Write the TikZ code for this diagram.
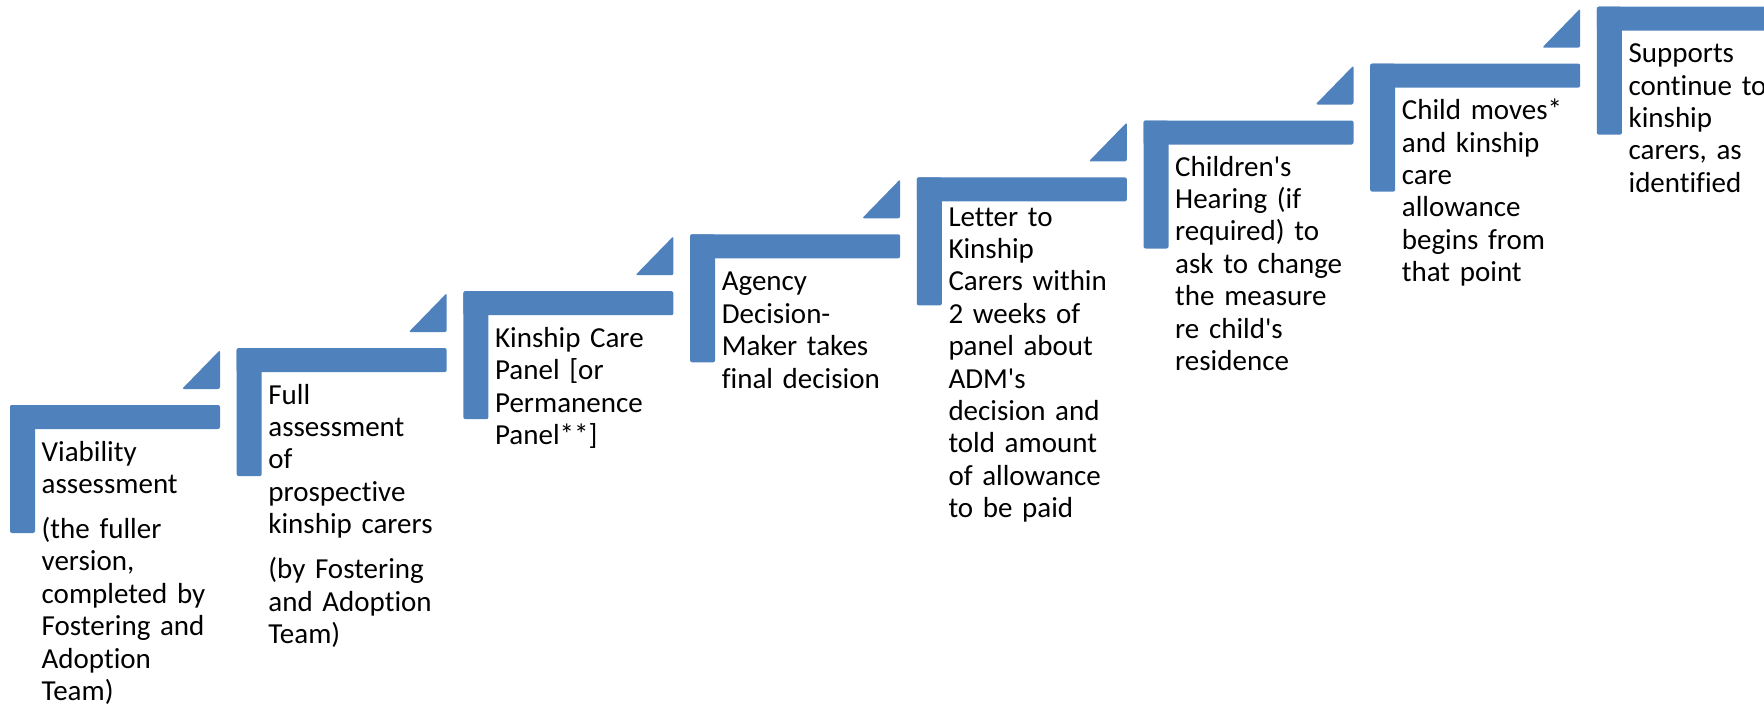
\documentclass[tikz,border=0pt]{standalone}
\usepackage{fontspec}
\newfontfamily\stepfont{Carlito}[Ligatures=CommonOff]
\definecolor{stepblue}{HTML}{4F81BD}
\tikzset{
  bar/.style={fill=stepblue, rounded corners=2pt},
  steptext/.style={anchor=base west, inner sep=0pt, text width=230pt, align=left,
    font=\stepfont\fontsize{29}{32.4}\selectfont, text=black}
}
\begin{document}
\begin{tikzpicture}[x=1pt,y=-1pt]
\useasboundingbox (0,0) rectangle (1764,707);
\clip (0,0) rectangle (1764,707);
\foreach \i in {1,...,8}{
  \pgfmathsetmacro\X{10+226.7*(\i-1)}
  \pgfmathsetmacro\Y{405-56.9*(\i-1)}
  \coordinate (s\i) at (\X,\Y);
  \fill[bar] (\X,\Y) rectangle ++(210,24);
  \fill[bar] (\X,\Y) rectangle ++(25,128);
  \fill[bar] (\X+172,\Y-16) -- (\X+210,\Y-16) -- (\X+210,\Y-55) -- cycle;
}
\node[steptext] (t1) at ([shift={(31.5,56)}]s1)
  {Viability\\assessment\\[12.6pt](the fuller\\version,\\completed by\\Fostering and\\Adoption\\Team)};
\node[steptext] (t2) at ([shift={(31.5,56)}]s2)
  {Full\\assessment\\of\\prospective\\kinship carers\\[12.6pt](by Fostering\\and Adoption\\Team)};
\node[steptext] (t3) at ([shift={(31.5,56)}]s3)
  {Kinship Care\\Panel [or\\Permanence\\Panel**]};
\node[steptext] (t4) at ([shift={(31.5,56.5)}]s4)
  {Agency\\Decision-\\Maker takes\\final decision};
\node[steptext] (t5) at ([shift={(31.5,48.6)}]s5)
  {Letter to\\Kinship\\Carers within\\2 weeks of\\panel about\\ADM's\\decision and\\told amount\\of allowance\\to be paid};
\node[steptext] (t6) at ([shift={(31.5,55.5)}]s6)
  {Children's\\Hearing (if\\required) to\\ask to change\\the measure\\re child's\\residence};
\node[steptext] (t7) at ([shift={(31.5,56)}]s7)
  {Child moves*\\and kinship\\care\\allowance\\begins from\\that point};
\node[steptext] (t8) at ([shift={(31.5,56)}]s8)
  {Supports\\continue to\\kinship\\carers, as\\identified};
\end{tikzpicture}
\end{document}
